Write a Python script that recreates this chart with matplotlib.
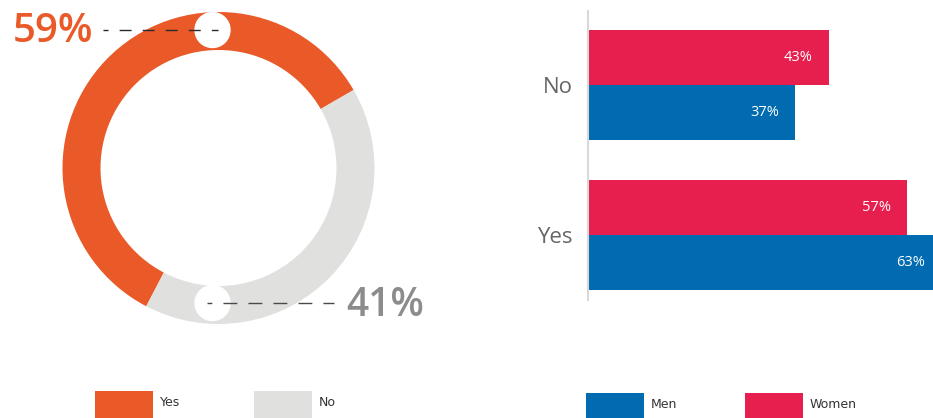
import numpy as np
import matplotlib.pyplot as plt
from matplotlib.patches import Circle, Rectangle

# data
donut_labels = ['Yes', 'No']
donut_values = [59, 41]
donut_colors = ['#E95A28', '#E0E0DF']

groups = ['Yes', 'No']
men = [63, 37]
women = [57, 43]
series_colors = {'Men': '#006BB0', 'Women': '#E61F4F'}

W, H = 933, 418
fig = plt.figure(figsize=(W / 100, H / 100), dpi=100)


def box(x0, y0, x1, y1):
    """pixel box (from top-left) -> figure fraction rect"""
    return [x0 / W, (H - y1) / H, (x1 - x0) / W, (y1 - y0) / H]


# ---- donut ----
cx, cy, R = 218.5, 168, 156
ax1 = fig.add_axes(box(0, 0, 440, 340))
ax1.pie(donut_values, colors=donut_colors, startangle=30, counterclock=True,
        radius=1, wedgeprops=dict(width=38 / R, linewidth=0))
ax1.set_xlim((0 - cx) / R, (440 - cx) / R)
ax1.set_ylim((cy - 340) / R, cy / R)
ax1.set_aspect('auto')
ax1.axis('off')


def u(px, py):
    return (px - cx) / R, (cy - py) / R


# white markers on the ring
for px, py in [(212.5, 30), (212.5, 303)]:
    ax1.add_patch(Circle(u(px, py), 17.5 / R, color='white', zorder=5))

# dashed leader lines
(xa, ya), (xb, _) = u(103, 30), u(218, 30)
ax1.plot([xa, xb], [ya, ya], ls=(5, (8.6, 8.0)), color='#2A2A2A', lw=1, zorder=6)
(xa, ya), (xb, _) = u(207, 303), u(334, 303)
ax1.plot([xa, xb], [ya, ya], ls=(6.5, (10, 8)), color='#4A4A4A', lw=1, zorder=6)

tx, ty = u(93, 32)
ax1.text(tx, ty, f'{donut_values[0]}%', color=donut_colors[0], fontsize=29,
         fontweight='semibold', family='Open Sans', ha='right', va='center')
tx, ty = u(346, 306)
ax1.text(tx, ty, f'{donut_values[1]}%', color='#8C8C8C', fontsize=28,
         fontweight='semibold', family='Open Sans', ha='left', va='center')

# ---- bars ----
ax2 = fig.add_axes(box(588, 11, 933, 300))
y = np.arange(len(groups))
h = 0.367
bm = ax2.barh(y - h / 2, men, height=h, color=series_colors['Men'])
bw = ax2.barh(y + h / 2, women, height=h, color=series_colors['Women'])
ax2.set_xlim(0, (933 - 588) / 5.6)
ax2.set_ylim(-0.433, 1.497)
for bars, vals in [(bm, men), (bw, women)]:
    for b, v in zip(bars, vals):
        ax2.text(v - 2.9, b.get_y() + b.get_height() / 2, f'{v}%', color='white',
                 fontsize=10.5, family='Open Sans', ha='right', va='center')
ax2.set_yticks(y)
ax2.set_yticklabels(groups, fontsize=16, color='#666666', family='Open Sans')
ax2.tick_params(axis='y', length=0, pad=11)
ax2.set_xticks([])
for s in ['top', 'right', 'bottom']:
    ax2.spines[s].set_visible(False)
ax2.spines['left'].set_color('#D9D9D9')
ax2.spines['left'].set_linewidth(1.5)

# ---- legends ----
legend_items = [
    ('Yes', donut_colors[0], 95, 391, 402.5),
    ('No', donut_colors[1], 254, 391, 402.5),
    ('Men', series_colors['Men'], 586, 393, 405),
    ('Women', series_colors['Women'], 745, 393, 405),
]
for label, col, x0, y0, ytxt in legend_items:
    fig.add_artist(Rectangle((x0 / W, (H - y0 - 30) / H), 58 / W, 30 / H,
                             transform=fig.transFigure, color=col, lw=0))
    fig.text((x0 + 65) / W, (H - ytxt) / H, label, fontsize=9, color='#333333',
             ha='left', va='center')

fig.savefig('out.png', dpi=100, facecolor='white')
